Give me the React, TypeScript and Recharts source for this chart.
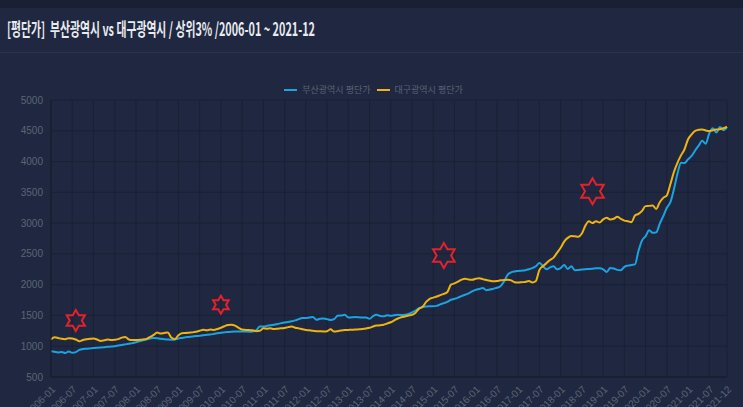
import React from "react";
import {
  LineChart,
  Line,
  XAxis,
  YAxis,
  CartesianGrid,
  ReferenceDot,
} from "recharts";

// categories: monthly 2006-01 .. 2021-12
const years = [2006, 2007, 2008, 2009, 2010, 2011, 2012, 2013, 2014, 2015, 2016, 2017, 2018, 2019, 2020, 2021];
const monthNames = ["01", "02", "03", "04", "05", "06", "07", "08", "09", "10", "11", "12"];
const dates: string[] = [];
years.forEach((y) => monthNames.forEach((m) => dates.push(`${y}-${m}`)));

// 부산광역시 평단가
const busan = [
  920, 910, 900, 905, 890, 915, 895, 905, 940, 955, 960, 965,
  970, 975, 980, 985, 990, 995, 1000, 1010, 1020, 1030, 1040, 1050,
  1065, 1080, 1095, 1110, 1125, 1135, 1130, 1120, 1115, 1110, 1105, 1110,
  1125, 1135, 1145, 1150, 1157, 1165, 1170, 1180, 1185, 1190, 1200, 1210,
  1220, 1225, 1230, 1235, 1238, 1240, 1238, 1240, 1235, 1240, 1260, 1320,
  1320, 1330, 1340, 1350, 1360, 1375, 1385, 1395, 1405, 1420, 1440, 1457,
  1460, 1465, 1475, 1430, 1445, 1450, 1440, 1425, 1440, 1495, 1500, 1510,
  1465, 1470, 1475, 1470, 1465, 1465, 1445, 1490, 1510, 1490, 1485, 1505,
  1495, 1505, 1510, 1508, 1512, 1525, 1550, 1580, 1620, 1635, 1645, 1648,
  1648, 1655, 1680, 1700, 1720, 1755, 1770, 1790, 1815, 1837, 1860, 1890,
  1915, 1930, 1945, 1910, 1920, 1935, 1950, 1975, 2050, 2160, 2200, 2215,
  2222, 2228, 2235, 2250, 2270, 2300, 2350, 2300, 2250, 2280, 2298, 2250,
  2270, 2320, 2255, 2300, 2235, 2240, 2245, 2250, 2255, 2260, 2265, 2265,
  2250, 2206, 2271, 2262, 2240, 2233, 2290, 2309, 2320, 2330, 2550, 2720,
  2787, 2885, 2842, 2850, 2990, 3113, 3250, 3340, 3550, 3800, 3982, 3975,
  4037, 4091, 4180, 4260, 4336, 4290, 4460, 4540, 4470, 4560, 4510, 4560,
];

// 대구광역시 평단가
const daegu = [
  1110, 1145, 1135, 1120, 1115, 1130, 1125, 1110, 1080, 1100, 1115, 1120,
  1125, 1110, 1085, 1095, 1110, 1100, 1105, 1115, 1140, 1150, 1110, 1100,
  1100, 1105, 1110, 1120, 1150, 1185, 1222, 1205, 1215, 1222, 1140, 1115,
  1180, 1212, 1215, 1220, 1225, 1235, 1250, 1266, 1260, 1270, 1265, 1280,
  1300, 1325, 1345, 1350, 1335, 1300, 1270, 1265, 1262, 1258, 1245, 1250,
  1290, 1285, 1290, 1280, 1285, 1290, 1295, 1310, 1320, 1300, 1290, 1275,
  1265, 1258, 1250, 1245, 1242, 1240, 1245, 1275, 1238, 1245, 1255, 1262,
  1265, 1268, 1270, 1275, 1280, 1288, 1300, 1320, 1335, 1340, 1350, 1370,
  1390, 1420, 1450, 1470, 1483, 1500, 1510, 1545, 1610, 1640, 1720, 1770,
  1790, 1808, 1830, 1850, 1880, 2000, 2020, 2050, 2081, 2097, 2085, 2080,
  2095, 2105, 2090, 2075, 2065, 2055, 2060, 2070, 2075, 2080, 2070, 2040,
  2035, 2040, 2045, 2060, 2037, 2060, 2240, 2300, 2350, 2400, 2440, 2520,
  2600, 2700, 2760, 2790, 2785, 2780, 2830, 2960, 3030, 3000, 3032, 3010,
  3060, 3086, 3060, 3070, 3102, 3070, 3040, 3030, 3015, 3124, 3150, 3200,
  3276, 3280, 3285, 3230, 3340, 3410, 3450, 3630, 3830, 3980, 4100, 4200,
  4363, 4440, 4500, 4515, 4520, 4505, 4495, 4510, 4520, 4525, 4540, 4565,
];

const xTicks = [...dates.filter((_, i) => i % 6 === 0), "2021-12"];
const yTicks = [500, 1000, 1500, 2000, 2500, 3000, 3500, 4000, 4500, 5000];

// annotation stars (date, value)
const starDates = ["2006-08", "2010-01", "2015-04", "2018-10"];
const starValues = [1418, 1674, 2472, 3516];
const starRadii = [10.5, 9, 12.5, 13];

const seriesNames = ["부산광역시 평단가", "대구광역시 평단가"];
const titleText = "[평단가]  부산광역시 vs 대구광역시 / 상위3% /2006-01 ~ 2021-12";

const data = dates.map((d, i) => ({ date: d, busan: busan[i], daegu: daegu[i] }));

const BLUE = "#1ba3e2";
const YELLOW = "#efb410";
const BG = "#1f2840";
const TICK = "#5d6476";

function hexagramPath(cx: number, cy: number, R: number) {
  const r = R / Math.sqrt(3);
  const pts: string[] = [];
  for (let k = 0; k < 12; k++) {
    const ang = -Math.PI / 2 + (k * Math.PI) / 6;
    const rad = k % 2 === 0 ? R : r;
    pts.push(`${(cx + rad * Math.cos(ang)).toFixed(2)},${(cy + rad * Math.sin(ang)).toFixed(2)}`);
  }
  return "M" + pts.join("L") + "Z";
}

const makeStar = (R: number) => (props: any) => {
  const { cx, cy } = props;
  if (cx == null || cy == null) return <g />;
  return <path d={hexagramPath(cx, cy, R)} fill="none" stroke="#e5212b" strokeWidth={2} strokeLinejoin="miter" />;
};

export default function App() {
  return (
    <div
      style={{
        position: "fixed",
        left: 0,
        top: 0,
        width: 743,
        height: 407,
        background: BG,
        overflow: "hidden",
      }}
    >
      <div style={{ position: "absolute", left: 0, top: 0, width: 743, height: 8, background: "#192033" }} />
      <div style={{ position: "absolute", left: 0, top: 52, width: 743, height: 1, background: "#2b344d" }} />
      <svg width={743} height={52} style={{ position: "absolute", left: 0, top: 0 }}>
        <text
          x={7}
          y={36}
          fontFamily="'Noto Sans CJK KR', 'Noto Sans', sans-serif"
          fontWeight={700}
          fontSize={18}
          fill="#e9ebf0"
          textLength={308}
          lengthAdjust="spacingAndGlyphs"
          style={{ whiteSpace: "pre" }}
        >
          {titleText}
        </text>
      </svg>
      <div
        style={{
          position: "absolute",
          left: 0,
          top: 84,
          width: 743,
          display: "flex",
          justifyContent: "center",
          alignItems: "center",
          fontFamily: "'Noto Sans CJK KR', sans-serif",
          fontSize: 9,
          color: "#5a6175",
          lineHeight: "12px",
          paddingLeft: 10,
          boxSizing: "border-box",
        }}
      >
        {[BLUE, YELLOW].map((c, i) => (
          <div key={i} style={{ display: "flex", alignItems: "center", marginRight: 6 }}>
            <div style={{ width: 13, height: 2, background: c, marginRight: 5 }} />
            <span>{seriesNames[i]}</span>
          </div>
        ))}
      </div>
      <div style={{ position: "absolute", left: 0, top: 0 }}>
        <LineChart
          width={743}
          height={407}
          data={data}
          margin={{ top: 100, right: 16, left: 0, bottom: 0 }}
        >
          <CartesianGrid stroke="#1a2133" strokeWidth={1} horizontal vertical />
          <XAxis
            dataKey="date"
            ticks={xTicks}
            interval={0}
            height={30}
            tickLine={false}
            axisLine={{ stroke: "#171d2d" }}
            angle={-45}
            textAnchor="end"
            tick={{ fill: TICK, fontSize: 10, fontFamily: "'Liberation Sans', Arial, sans-serif" }}
          />
          <YAxis
            width={51}
            domain={[500, 5000]}
            ticks={yTicks}
            tickLine={false}
            axisLine={{ stroke: "#171d2d" }}
            tick={{ fill: TICK, fontSize: 10, fontFamily: "'Liberation Sans', Arial, sans-serif" }}
          />
          <Line
            type="monotone"
            dataKey="busan"
            name={seriesNames[0]}
            stroke={BLUE}
            strokeWidth={2}
            dot={false}
            isAnimationActive={false}
          />
          <Line
            type="monotone"
            dataKey="daegu"
            name={seriesNames[1]}
            stroke={YELLOW}
            strokeWidth={2}
            dot={false}
            isAnimationActive={false}
          />
          {starDates.map((d, i) => (
            <ReferenceDot
              key={d}
              x={d}
              y={starValues[i]}
              r={starRadii[i]}
              ifOverflow="visible"
              shape={makeStar(starRadii[i])}
            />
          ))}
        </LineChart>
      </div>
    </div>
  );
}
